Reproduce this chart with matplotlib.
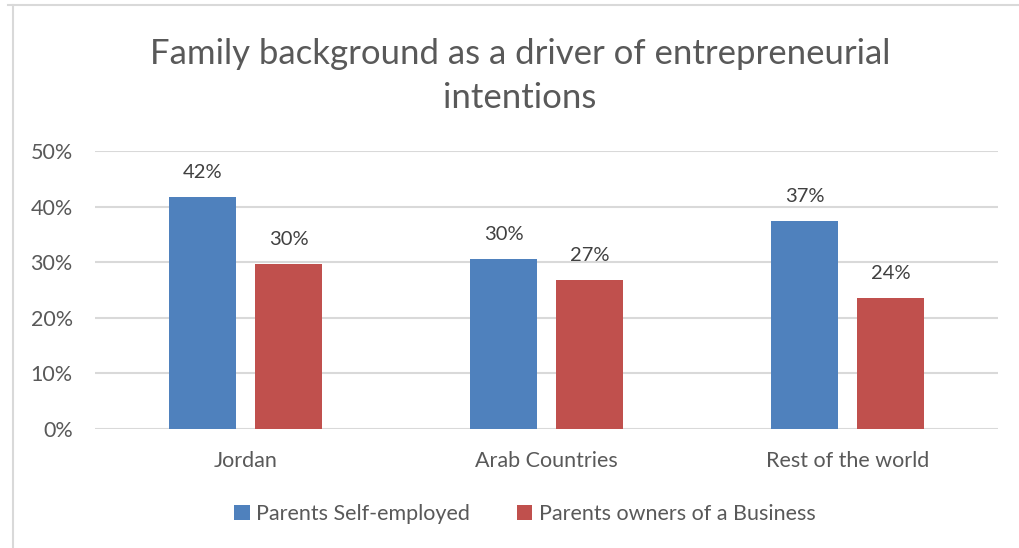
import matplotlib
matplotlib.use("Agg")
import matplotlib.pyplot as plt
from matplotlib.lines import Line2D
from matplotlib.patches import Patch
import numpy as np

plt.rcParams['font.family'] = ['Lato', 'DejaVu Sans']

categories = ["Jordan", "Arab Countries", "Rest of the world"]
series_names = ["Parents Self-employed", "Parents owners of a Business"]
self_employed = [0.418, 0.305, 0.374]
business_owners = [0.297, 0.268, 0.236]
y_ticks = [0.0, 0.1, 0.2, 0.3, 0.4, 0.5]
colors = ["#4F81BD", "#C0504D"]
text_color = "#595959"
grid_color = "#D9D9D9"

W, H = 1020, 548
fig = plt.figure(figsize=(W / 100, H / 100), dpi=100)
ax = fig.add_axes([95 / W, 1 - 429 / H, (998 - 95) / W, (429 - 151) / H])

x = np.arange(len(categories))
width = 0.223
offset = 0.143
for vals, dx, col, name in [(self_employed, -offset, colors[0], series_names[0]),
                            (business_owners, offset, colors[1], series_names[1])]:
    bars = ax.bar(x + dx, vals, width, color=col, zorder=3, label=name)
    for b, v in zip(bars, vals):
        ax.annotate(f"{v * 100:.0f}%", (b.get_x() + b.get_width() / 2, v),
                    xytext=(0, 16), textcoords="offset pixels",
                    ha="center", va="bottom", fontsize=14.5, color="#404040")

ax.set_xlim(-0.5, 2.5)
ax.set_ylim(0, 0.5)
ax.set_yticks(y_ticks)
ax.set_yticklabels([f"{t * 100:.0f}%" for t in y_ticks])
ax.set_xticks(x)
ax.set_xticklabels(categories)
ax.tick_params(axis="both", length=0, labelsize=15.5, labelcolor=text_color)
ax.tick_params(axis="y", pad=16)
ax.tick_params(axis="x", pad=16)
ax.grid(axis="y", color=grid_color, linewidth=1.5, zorder=0)
for s in ax.spines.values():
    s.set_visible(False)

fig.text(520 / W, 1 - 76 / H, "Family background as a driver of entrepreneurial\nintentions",
         ha="center", va="center", fontsize=25, color=text_color, linespacing=1.45)

handles = [Patch(facecolor=c, label=n) for c, n in zip(colors, series_names)]
fig.legend(handles=handles, loc="center", bbox_to_anchor=(525 / W, 1 - 514 / H),
           ncol=2, frameon=False, fontsize=15.5, labelcolor=text_color,
           handlelength=0.7, handleheight=0.7, handletextpad=0.3, columnspacing=2.2)

# chart frame
fig.add_artist(Line2D([8 / W, 1], [1 - 5 / H, 1 - 5 / H], color=grid_color, lw=1.5))
fig.add_artist(Line2D([13 / W, 13 / W], [0, 1 - 5 / H], color=grid_color, lw=1.5))

fig.savefig("out.png", dpi=100)
